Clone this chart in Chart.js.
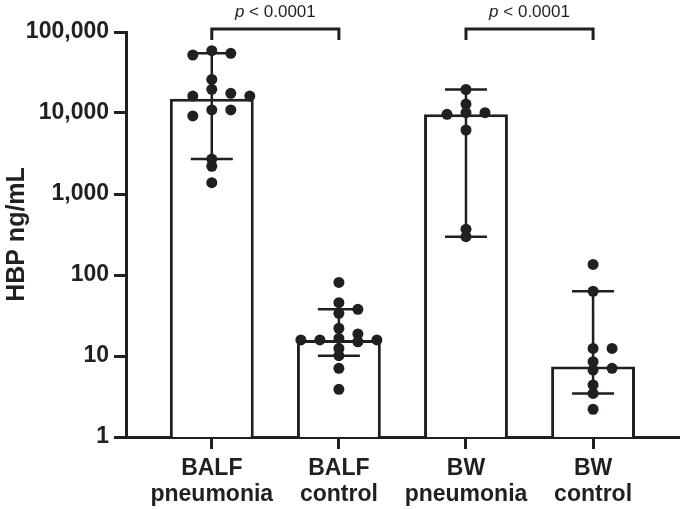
<!DOCTYPE html>
<html>
<head>
<meta charset="utf-8">
<script src="https://cdn.jsdelivr.net/npm/chart.js@4.4.0/dist/chart.umd.min.js"></script>
<style>
  html, body { margin: 0; padding: 0; background: #fff; }
  #wrap { width: 685px; height: 509px; }
</style>
</head>
<body>
<div id="wrap"><canvas id="hbp-chart"></canvas></div>
<script>
// Values (HBP, ng/mL)
const categories = [['BALF', 'pneumonia'], ['BALF', 'control'], ['BW', 'pneumonia'], ['BW', 'control']];
const medians = [15000, 15.8, 9640, 7.4];
const errLow = [2700, 10.1, 297, 3.45];
const errHigh = [54600, 37.7, 19500, 63];

const balfPneumonia = [58800, 54600, 52000, 26000, 19600, 17500, 16200, 16200, 10900, 10900, 9200, 2700, 2200, 1380];
const balfControl = [81, 45.5, 37.7, 33.6, 22, 18.7, 16.5, 15.8, 15.8, 15.8, 15, 12.4, 10.1, 7.05, 3.88];
const bwPneumonia = [19500, 12900, 10100, 10100, 9640, 6170, 367, 297];
const bwControl = [135, 63, 12.4, 12.4, 8.5, 7.05, 6.7, 4.39, 3.45, 2.2];
const groups = [balfPneumonia, balfControl, bwPneumonia, bwControl];

const yTicks = [1, 10, 100, 1000, 10000, 100000];
const comparisons = [[0, 1], [2, 3]];
const pText = ' < 0.0001';

const INK = '#231f20';
const FONT = "'Liberation Sans', Arial, Helvetica, sans-serif";
const CAP = 21;       // half width of error bar caps, px
const DOT_GAP = 7;    // min vertical distance between dots in one column, px
const COL_STEP = 19;  // horizontal spacing of dot columns, px

// Error bars drawn right after the bars, under the dots
const errorBarPlugin = {
    id: 'errorBars',
    afterDatasetDraw(chart, args) {
        if (args.index !== 0) return;
        const { ctx, scales: { x, y } } = chart;
        ctx.save();
        ctx.strokeStyle = INK;
        ctx.lineWidth = 2.5;
        ctx.beginPath();
        medians.forEach((m, i) => {
            const px = x.getPixelForValue(i);
            const top = y.getPixelForValue(errHigh[i]);
            const bot = y.getPixelForValue(errLow[i]);
            ctx.moveTo(px, top); ctx.lineTo(px, bot);
            ctx.moveTo(px - CAP, top); ctx.lineTo(px + CAP, top);
            ctx.moveTo(px - CAP, bot); ctx.lineTo(px + CAP, bot);
        });
        ctx.stroke();
        ctx.restore();
    }
};

// Significance brackets above the plot
const bracketPlugin = {
    id: 'brackets',
    afterDraw(chart) {
        const { ctx, chartArea, scales: { x } } = chart;
        const yTop = chartArea.top - 3;
        const yLeg = chartArea.top + 8;
        ctx.save();
        ctx.strokeStyle = INK;
        ctx.fillStyle = INK;
        ctx.lineWidth = 3;
        ctx.textBaseline = 'alphabetic';
        ctx.textAlign = 'left';
        comparisons.forEach(([a, b]) => {
            const x1 = x.getPixelForValue(a);
            const x2 = x.getPixelForValue(b);
            ctx.beginPath();
            ctx.moveTo(x1, yLeg);
            ctx.lineTo(x1, yTop);
            ctx.lineTo(x2, yTop);
            ctx.lineTo(x2, yLeg);
            ctx.stroke();

            const italic = 'italic 17px ' + FONT;
            const normal = '17px ' + FONT;
            ctx.font = italic;
            const wp = ctx.measureText('p').width;
            ctx.font = normal;
            const wr = ctx.measureText(pText).width;
            const start = (x1 + x2) / 2 - (wp + wr) / 2;
            ctx.font = italic;
            ctx.fillText('p', start, yTop - 12);
            ctx.font = normal;
            ctx.fillText(pText, start + wp, yTop - 12);
        });
        ctx.restore();
    }
};

const axisGrid = {
    display: true,
    drawOnChartArea: false,
    drawTicks: true,
    tickLength: 12,
    tickWidth: 3,
    tickColor: INK,
    offset: false
};
const axisBorder = { display: true, width: 3, color: INK };

const chart = new Chart(document.getElementById('hbp-chart'), {
    type: 'bar',
    data: {
        datasets: [
            {
                type: 'bar',
                data: medians.map((v, i) => ({ x: i, y: v })),
                backgroundColor: '#ffffff',
                borderColor: INK,
                borderWidth: 3,
                barPercentage: 0.66,
                categoryPercentage: 1,
                order: 2
            },
            {
                type: 'scatter',
                data: groups.flatMap((g, i) => g.map(v => ({ x: i, y: v }))),
                pointRadius: 5.5,
                pointHoverRadius: 5.5,
                backgroundColor: INK,
                borderWidth: 0,
                order: 1
            }
        ]
    },
    options: {
        responsive: true,
        maintainAspectRatio: false,
        animation: false,
        layout: { padding: { top: 32, right: 5, left: 0, bottom: 0 } },
        plugins: {
            legend: { display: false },
            tooltip: { enabled: false }
        },
        scales: {
            x: {
                type: 'linear',
                bounds: 'data',
                offset: false,
                min: -0.675,
                max: 3.68,
                afterBuildTicks: scale => { scale.ticks = categories.map((c, i) => ({ value: i })); },
                afterFit: scale => { scale.height = 72; },
                ticks: {
                    callback: value => categories[value],
                    autoSkip: false,
                    maxRotation: 0,
                    padding: 6,
                    color: INK,
                    font: { family: FONT, size: 23, weight: 'bold', lineHeight: 1.15 }
                },
                grid: axisGrid,
                border: axisBorder
            },
            y: {
                type: 'logarithmic',
                min: 1,
                max: 100000,
                afterBuildTicks: scale => { scale.ticks = yTicks.map(v => ({ value: v })); },
                afterFit: scale => { scale.width = 126; },
                ticks: {
                    callback: value => Number(value).toLocaleString('en-US'),
                    padding: 5,
                    color: INK,
                    font: { family: FONT, size: 23, weight: 'bold' }
                },
                title: {
                    display: true,
                    text: 'HBP ng/mL',
                    color: INK,
                    padding: { top: 2, bottom: 4 },
                    font: { family: FONT, size: 25, weight: 'bold' }
                },
                grid: axisGrid,
                border: axisBorder
            }
        }
    },
    plugins: [errorBarPlugin, bracketPlugin]
});

// Spread dots sideways so they don't overlap too much (simple column beeswarm)
function spreadPoints() {
    const { x, y } = chart.scales;
    const unit = x.getPixelForValue(1) - x.getPixelForValue(0);
    const pts = [];
    groups.forEach((vals, gi) => {
        const placed = [];
        const order = vals.map((v, j) => j).sort((a, b) => vals[b] - vals[a]);
        order.forEach(j => {
            const py = y.getPixelForValue(vals[j]);
            let col = 0;
            for (let k = 0; k < 20; k++) {
                const c = k === 0 ? 0 : (k % 2 ? Math.ceil(k / 2) : -k / 2);
                if (!placed.some(p => p.col === c && Math.abs(p.py - py) < DOT_GAP)) {
                    col = c;
                    break;
                }
            }
            placed.push({ col, py });
            pts.push({ x: gi + col * COL_STEP / unit, y: vals[j] });
        });
    });
    chart.data.datasets[1].data = pts;
    chart.update('none');
}
spreadPoints();
</script>
</body>
</html>
